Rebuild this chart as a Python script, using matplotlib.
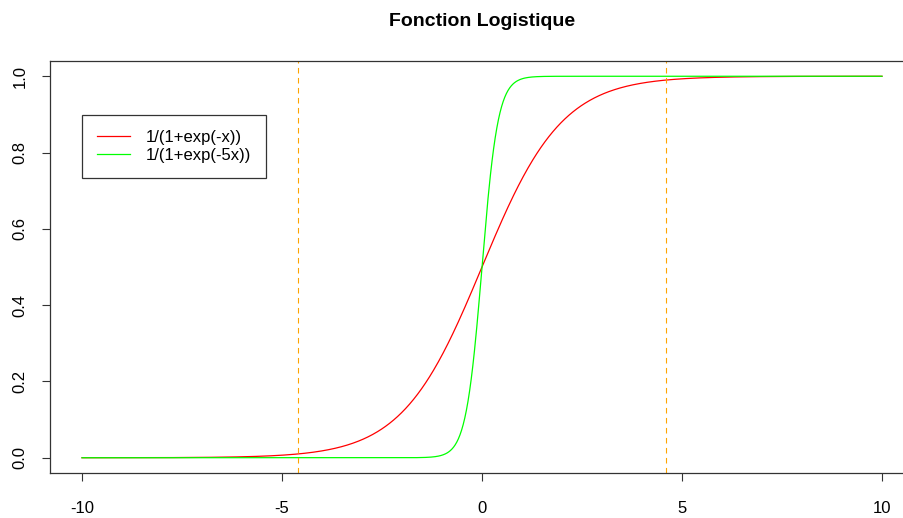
import matplotlib.pyplot as plt
import numpy as np

# -----------------------data-----------------------
x_min, x_max = -10, 10
n_points = 1000
slopes = [1, 5]
curve_labels = ['1/(1+exp(-x))', '1/(1+exp(-5x))']
curve_colors = ['#FF0000', '#00FF00']
vlines_x = [-4.6, 4.6]          # where 1/(1+exp(-x)) hits 0.01 and 0.99
x_ticks = [-10, -5, 0, 5, 10]
y_ticks = [0.0, 0.2, 0.4, 0.6, 0.8, 1.0]
title = 'Fonction Logistique'

# -----------------------fig configuration-----------------------
plt.rcParams['font.family'] = ['Liberation Sans', 'DejaVu Sans']
W, H = 904, 518
fig = plt.figure(figsize=(W / 100, H / 100), dpi=100)
# plot box in pixels: left 50, right 914 (cropped), top 61, bottom 473
ax = fig.add_axes([50 / W, 1 - 473 / H, 864 / W, 412 / H])

x = np.linspace(x_min, x_max, n_points)
for k, lab, col in zip(slopes, curve_labels, curve_colors):
    ax.plot(x, 1 / (1 + np.exp(-k * x)), color=col, lw=0.9, label=lab)

for xv in vlines_x:
    ax.axvline(xv, color='#FFA500', lw=0.8, ls=(0, (5, 4)))

ax.set_xlim(-10.8, 10.8)
ax.set_ylim(-0.04, 1.04)

ax.set_xticks(x_ticks)
ax.set_xticklabels([str(v) for v in x_ticks], fontsize=12)
ax.set_yticks(y_ticks)
ax.set_yticklabels(['%.1f' % v for v in y_ticks], fontsize=12, rotation=90, va='center')
ax.tick_params(axis='both', direction='out', length=6, width=0.8, color='#333333')
ax.tick_params(axis='x', pad=14)
ax.tick_params(axis='y', pad=10)

for s in ax.spines.values():
    s.set_linewidth(0.9)
    s.set_color('#333333')

ax.set_title(title, fontsize=14, fontweight='bold', pad=25)

leg = ax.legend(loc='upper left', bbox_to_anchor=((82 - 50) / 864, (473 - 115) / 412),
                fontsize=12, frameon=True, fancybox=False, borderaxespad=0,
                handlelength=2.0, handletextpad=0.9, borderpad=0.9, labelspacing=0.2)
leg.get_frame().set_edgecolor('black')
leg.get_frame().set_linewidth(0.9)

plt.savefig('out.png', dpi=100)
